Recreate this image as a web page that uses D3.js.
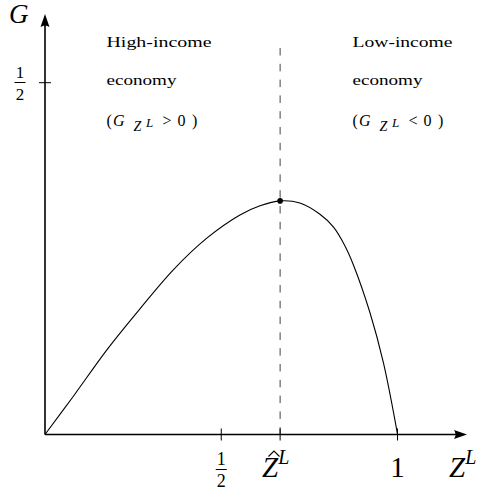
<!DOCTYPE html>
<html>
<head>
<meta charset="utf-8">
<script src="https://cdn.jsdelivr.net/npm/d3@7"></script>
<style>
  body { margin: 0; background: #fff; }
  text { font-family: "Liberation Serif", "DejaVu Serif", serif; fill: #000; }
</style>
</head>
<body>
<div id="chart"></div>
<script>
// curve G(Z^L)
var zValues = [0, 0.080, 0.175, 0.270, 0.364, 0.459, 0.553, 0.610, 0.667, 0.723, 0.780, 0.818, 0.851, 0.875, 0.922, 0.960, 0.998, 1];
var gValues = [0, 0.054, 0.120, 0.179, 0.234, 0.279, 0.312, 0.325, 0.332, 0.329, 0.313, 0.295, 0.268, 0.241, 0.173, 0.102, 0.006, 0];
var zHat = 0.667, gPeak = 0.332;
var yTickValues = [0.5];
var regionLabels = [
    ["High-income", "economy", ">"],
    ["Low-income", "economy", "<"]
];

var width = 486, height = 497;
var svg = d3.select("#chart").append("svg").attr("width", width).attr("height", height);

var x = d3.scaleLinear().domain([0, 1]).range([45, 397.5]);
var y = d3.scaleLinear().domain([0, 0.5]).range([434.5, 82.7]);
var axisY = y(0), axisX = x(0);

// dashed line at the maximum
svg.append("line")
    .attr("x1", x(zHat)).attr("x2", x(zHat))
    .attr("y1", 48).attr("y2", axisY)
    .attr("stroke", "#444").attr("stroke-width", 1)
    .attr("stroke-dasharray", "7.5,8.3");

// axes with arrows
svg.append("line").attr("x1", axisX).attr("x2", 458).attr("y1", axisY).attr("y2", axisY)
    .attr("stroke", "#000").attr("stroke-width", 1.6);
svg.append("line").attr("x1", axisX).attr("x2", axisX).attr("y1", axisY).attr("y2", 24)
    .attr("stroke", "#000").attr("stroke-width", 1.6);
svg.append("path").attr("d", "M467," + axisY + " L454," + (axisY - 4.5) + " Q457," + axisY + " 454," + (axisY + 4.5) + " Z");
svg.append("path").attr("d", "M" + axisX + ",14 L" + (axisX - 4.5) + ",27 Q" + axisX + ",24 " + (axisX + 4.5) + ",27 Z");

// ticks
[0.5, zHat, 1].forEach(function(v){
    svg.append("line").attr("x1", x(v)).attr("x2", x(v)).attr("y1", axisY - 6).attr("y2", axisY + 6)
        .attr("stroke", "#000").attr("stroke-width", 1);
});
yTickValues.forEach(function(v){
    svg.append("line").attr("x1", axisX - 6).attr("x2", axisX + 6).attr("y1", y(v)).attr("y2", y(v))
        .attr("stroke", "#000").attr("stroke-width", 1);
});

// curve
var line = d3.line().x(function(d){ return x(d[0]); }).y(function(d){ return y(d[1]); }).curve(d3.curveCatmullRom.alpha(0.5));
svg.append("path").datum(d3.zip(zValues, gValues))
    .attr("d", line).attr("fill", "none").attr("stroke", "#000").attr("stroke-width", 1.1);
svg.append("circle").attr("cx", x(zHat)).attr("cy", y(gPeak)).attr("r", 2.8).attr("fill", "#000");

// fractions 1/2
function fraction(cx, top, size){
    svg.append("text").attr("x", cx).attr("y", top).attr("text-anchor", "middle").style("font-size", size + "px").text("1");
    svg.append("line").attr("x1", cx - 5.5).attr("x2", cx + 5.5).attr("y1", top + 4.5).attr("y2", top + 4.5)
        .attr("stroke", "#000").attr("stroke-width", 1);
    svg.append("text").attr("x", cx).attr("y", top + 22).attr("text-anchor", "middle").style("font-size", size + "px").text("2");
}
fraction(20, 78, 17);
fraction(x(0.5), 465, 18);

// x tick labels
var zh = svg.append("text").attr("x", 262).attr("y", 477).style("font-size", "29px");
zh.append("tspan").style("font-style", "italic").text("Z");
zh.append("tspan").attr("dy", -13).style("font-size", "20px").style("font-style", "italic").text("L");
svg.append("path").attr("d", "M268.5,456.5 L274,451 L279.5,456.5")
    .attr("fill", "none").attr("stroke", "#000").attr("stroke-width", 1.1);
svg.append("text").attr("x", x(1)).attr("y", 477).attr("text-anchor", "middle").style("font-size", "29px").text("1");

// axis titles
var zl = svg.append("text").attr("x", 449).attr("y", 477).style("font-size", "29px");
zl.append("tspan").style("font-style", "italic").text("Z");
zl.append("tspan").attr("dy", -13).style("font-size", "20px").style("font-style", "italic").text("L");
svg.append("text").attr("x", 9).attr("y", 23).style("font-size", "27px").style("font-style", "italic").text("G");

// region labels
var labelX = [106.5, 352.5];
regionLabels.forEach(function(lab, i){
    var lx = labelX[i];
    svg.append("text").attr("x", lx).attr("y", 47).style("font-size", "14px")
        .attr("textLength", i == 0 ? 105 : 100).attr("lengthAdjust", "spacingAndGlyphs").text(lab[0]);
    svg.append("text").attr("x", lx).attr("y", 85).style("font-size", "14px")
        .attr("textLength", 70).attr("lengthAdjust", "spacingAndGlyphs").text(lab[1]);
    var t = svg.append("text").attr("y", 126).style("font-size", "16px");
    t.append("tspan").attr("x", lx).text("(");
    t.append("tspan").attr("x", lx + 6.5).style("font-style", "italic").text("G");
    t.append("tspan").attr("x", lx + 27).attr("dy", 5).style("font-size", "14px").style("font-style", "italic").text("Z");
    t.append("tspan").attr("x", lx + 39.5).attr("dy", -4).style("font-size", "13px").style("font-style", "italic").text("L");
    t.append("tspan").attr("x", lx + 56).attr("dy", -1).text(lab[2]);
    t.append("tspan").attr("x", lx + 71).text("0");
    t.append("tspan").attr("x", lx + 85.5).text(")");
});
</script>
</body>
</html>
